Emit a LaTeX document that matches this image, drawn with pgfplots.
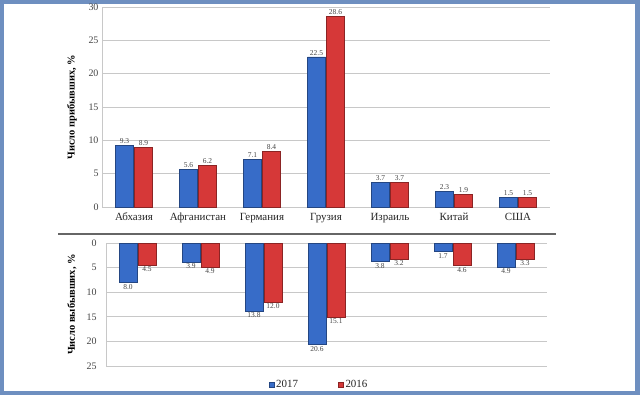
\documentclass[border=0pt]{standalone}
\usepackage{fontspec}
\setmainfont{Liberation Serif}
\usepackage{pgfplots}
\pgfplotsset{compat=1.18}
\definecolor{framec}{RGB}{110,143,192}
\definecolor{bblue}{RGB}{55,108,200}
\definecolor{bred}{RGB}{214,56,56}
\definecolor{gridc}{RGB}{200,200,200}
\definecolor{tickc}{RGB}{70,70,70}
\pgfplotsset{
  common/.style={
    scale only axis, clip=false,
    xmin=-0.5, xmax=6.5, enlargelimits=false,
    ybar=1bp, bar width=18bp,
    major tick length=0pt,
    ymajorgrids, grid style={gridc, line width=0.8bp},
    separate axis lines,
    /pgf/number format/assume math mode=true,
    tick label style={font=\fontsize{10}{12}\selectfont, text=tickc},
    ylabel style={font=\bfseries\fontsize{10.5}{12}\selectfont, anchor=center, rotate=0},
    nodes near coords={\pgfmathprintnumber[fixed,fixed zerofill,precision=1]{\pgfplotspointmeta}},
    every node near coord/.append style={font=\fontsize{7.5}{9}\selectfont, text=tickc, inner sep=1.5bp},
  },
  b17/.style={fill=bblue, draw=bblue!65!black, line width=0.5bp},
  b16/.style={fill=bred, draw=bred!65!black, line width=0.5bp},
}
\begin{document}
\begin{tikzpicture}[x=1bp,y=1bp]
\fill[framec] (0,0) rectangle (640,395);
\fill[white] (4,4) rectangle (635,391);
\begin{axis}[common,
  at={(102bp,188bp)}, anchor=south west,
  width=448bp, height=200bp,
  ymin=0, ymax=30, ytick={0,5,...,30},
  axis x line=bottom, axis y line=left,
  axis line style={-, draw=gridc, line width=0.8bp},
  xtick={0,...,6},
  xticklabels={Абхазия,Афганистан,Германия,Грузия,Израиль,Китай,США},
  xticklabel style={font=\fontsize{11}{13}\selectfont, text=black!85,
    anchor=base, yshift=-13bp},
  ylabel={Число прибывших, \%},
  ylabel style={at={(axis description cs:-0.067,0.5)}},
]
\addplot[b17] coordinates {(0,9.3) (1,5.6) (2,7.1) (3,22.5) (4,3.7) (5,2.3) (6,1.5)};
\addplot[b16] coordinates {(0,8.9) (1,6.2) (2,8.4) (3,28.6) (4,3.7) (5,1.9) (6,1.5)};
\end{axis}
\begin{axis}[common,
  at={(106bp,29bp)}, anchor=south west,
  width=441bp, height=123bp,
  y dir=reverse,
  ymin=0, ymax=25, ytick={0,5,...,25},
  axis x line=none, axis y line=left,
  axis line style={-, draw=gridc, line width=0.8bp},
  y axis line style={-},
  xtick=\empty,
  yticklabel style={xshift=-6bp},
  ylabel={Число выбывших, \%},
  ylabel style={at={(axis description cs:-0.077,0.5)}},
  nodes near coords style={anchor=north},
  legend style={at={(0.483,-0.154)}, anchor=center, draw=none, fill=none,
    legend columns=2, font=\fontsize{11}{13}\selectfont, text=black!85,
    /tikz/every even column/.append style={column sep=38bp},
    inner sep=0pt},
  legend image code/.code={\fill[#1] (0bp,-2.5bp) rectangle (5bp,2.5bp);},
]
\addplot[b17] coordinates {(0,8.0) (1,3.9) (2,13.8) (3,20.6) (4,3.8) (5,1.7) (6,4.9)};
\addplot[b16] coordinates {(0,4.5) (1,4.9) (2,12.0) (3,15.1) (4,3.2) (5,4.6) (6,3.3)};
\legend{2017,2016}
\end{axis}
\draw[line width=1.2bp, black!60] (58,161) -- (556,161);
\pgfresetboundingbox
\useasboundingbox (0,0) rectangle (640,395);
\end{tikzpicture}
\end{document}
